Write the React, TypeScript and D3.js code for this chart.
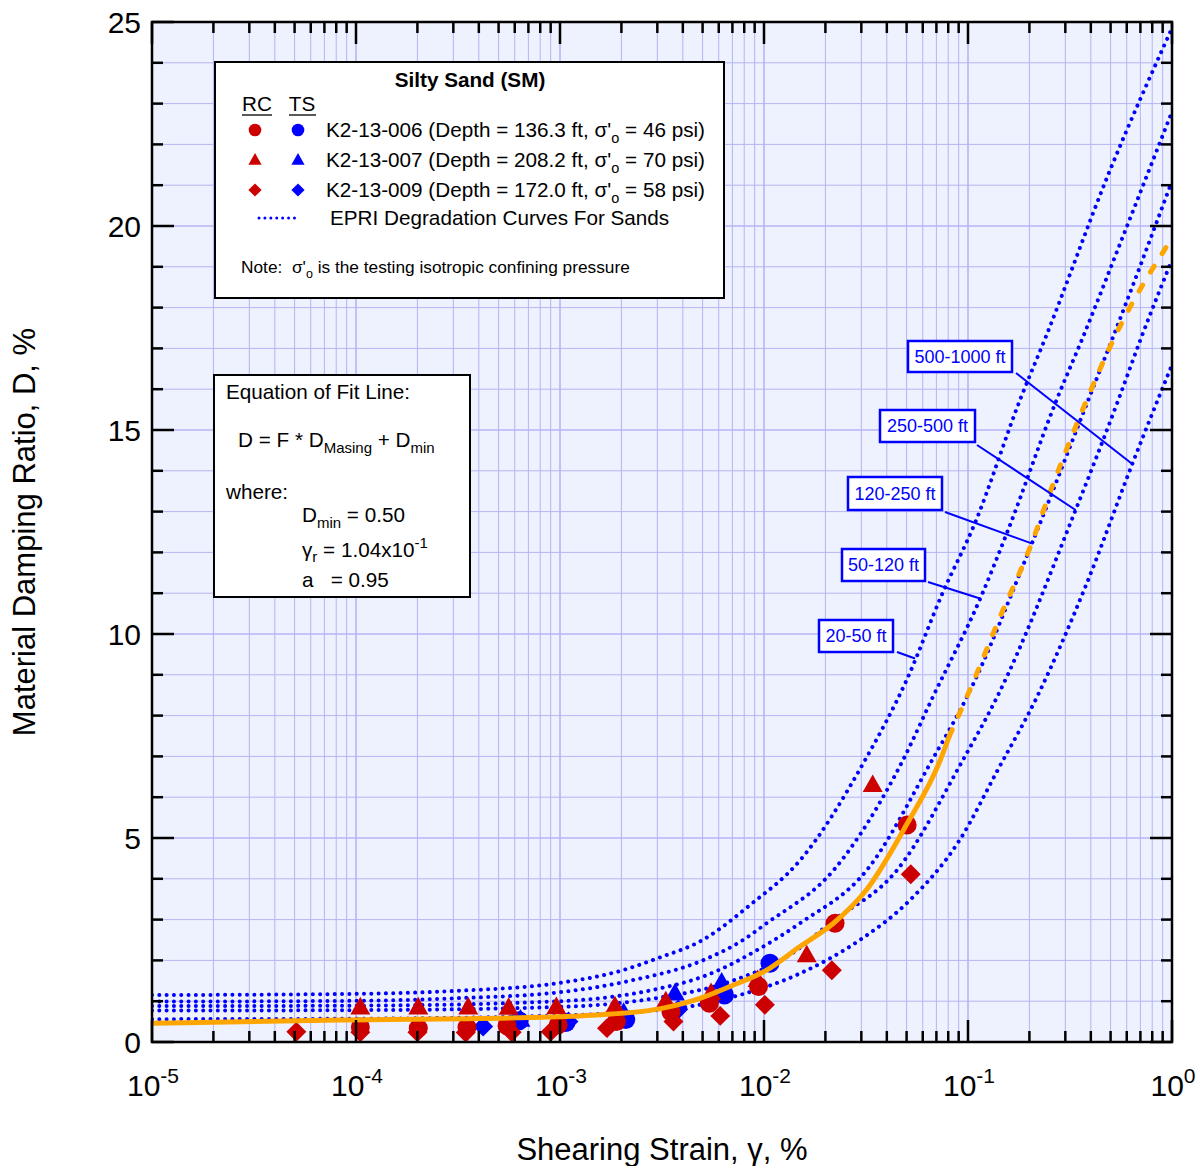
import React from 'react';
import * as d3 from 'd3';

// ---------- DATA ----------
// EPRI degradation curves for sands: [shear strain %, damping %]
const epri20to50: [number, number][] = [
  [1e-5, 1.15], [1e-4, 1.18], [3e-4, 1.25], [1e-3, 1.45], [2e-3, 1.75], [3e-3, 2.05], [5e-3, 2.5],
  [8.5e-3, 3.35], [0.015, 4.45], [0.0313, 6.91], [0.05, 8.87], [0.075, 11.0], [0.108, 12.71],
  [0.18, 15.74], [0.241, 17.29], [0.497, 21.37], [1.0, 24.85],
];
const epri50to120: [number, number][] = [
  [1e-5, 0.99], [1e-4, 1.01], [3e-4, 1.07], [1e-3, 1.22], [2.2e-3, 1.5], [5e-3, 2.0], [7.6e-3, 2.45],
  [0.0103, 2.91], [0.022, 4.22], [0.048, 6.91], [0.0673, 8.46], [0.1146, 10.86], [0.155, 12.47],
  [0.272, 15.74], [0.367, 17.29], [0.6, 19.98], [1.0, 22.8],
];
const epri120to250: [number, number][] = [
  [1e-5, 0.88], [1e-4, 0.89], [1e-3, 1.0], [3e-3, 1.3], [5e-3, 1.6], [0.01, 2.35], [0.015, 2.91],
  [0.032, 4.22], [0.0667, 6.91], [0.0989, 8.46], [0.205, 12.2], [0.389, 15.74], [0.515, 17.29],
  [1.0, 21.1],
];
const epri250to500: [number, number][] = [
  [1e-5, 0.77], [1e-4, 0.78], [1e-3, 0.86], [3e-3, 1.08], [7e-3, 1.5], [0.014, 2.2], [0.021, 2.91],
  [0.045, 4.22], [0.0944, 6.91], [0.139, 8.46], [0.337, 13.04], [0.546, 15.74], [0.71, 17.29],
  [1.0, 19.17],
];
const epri500to1000: [number, number][] = [
  [1e-5, 0.56], [1e-4, 0.57], [1e-3, 0.65], [4.3e-3, 0.87], [7.1e-3, 1.11], [0.015, 1.68],
  [0.0295, 2.5], [0.052, 3.48], [0.091, 4.95], [0.14, 6.67], [0.218, 8.46], [0.382, 11.24],
  [0.638, 14.16], [1.0, 16.6],
];

// Fit line (solid within tested range, dashed extrapolation)
const fitSolid: [number, number][] = [
  [1e-5, 0.46], [8.3e-5, 0.54], [7.1e-4, 0.6], [1.5e-3, 0.66], [3.2e-3, 0.83], [4.85e-3, 1.07],
  [6.8e-3, 1.36], [0.0103, 1.76], [0.015, 2.34], [0.0219, 2.91], [0.0318, 3.73], [0.05, 5.33],
  [0.073, 6.9], [0.081, 7.5],
];
const fitDashed: [number, number][] = [
  [0.081, 7.5], [0.0987, 8.46], [0.1436, 10.42], [0.205, 12.22], [0.248, 13.37], [0.348, 15.25],
  [0.525, 17.29], [1.0, 19.7],
];

// Test data: RC (red) and TS (blue)
const rcCircle006: [number, number][] = [
  [1.05e-4, 0.37], [2.02e-4, 0.34], [3.5e-4, 0.36], [5.5e-4, 0.4], [9.8e-4, 0.42], [1.89e-3, 0.5],
  [3.5e-3, 0.74], [5.4e-3, 0.95], [9.4e-3, 1.36], [0.0223, 2.91], [0.0503, 5.32],
];
const rcTriangle007: [number, number][] = [
  [1.05e-4, 0.85], [2.02e-4, 0.85], [3.55e-4, 0.85], [5.6e-4, 0.84], [9.6e-4, 0.86], [1.86e-3, 0.88],
  [3.3e-3, 1.0], [5.5e-3, 1.2], [9.3e-3, 1.52], [0.0162, 2.13], [0.0341, 6.3],
];
const rcDiamond009: [number, number][] = [
  [5.1e-5, 0.25], [1.05e-4, 0.24], [2.0e-4, 0.24], [3.45e-4, 0.23], [5.8e-4, 0.24], [9.0e-4, 0.25],
  [1.7e-3, 0.34], [3.6e-3, 0.5], [6.1e-3, 0.64], [0.0101, 0.91], [0.0215, 1.76], [0.0524, 4.11],
];
const tsCircle006: [number, number][] = [
  [6.3e-4, 0.52], [1.07e-3, 0.48], [2.1e-3, 0.55], [6.4e-3, 1.15], [0.0107, 1.93],
];
const tsTriangle007: [number, number][] = [
  [6.4e-4, 0.55], [2.05e-3, 0.72], [3.66e-3, 1.19], [6.2e-3, 1.46],
];
const tsDiamond009: [number, number][] = [
  [4.2e-4, 0.38], [1.1e-3, 0.5], [3.8e-3, 0.8],
];

const yTickValues = [0, 5, 10, 15, 20, 25];
const xDecades = [-5, -4, -3, -2, -1, 0];

const legendRows = [
  { id: 'K2-13-006', depth: '136.3', sigma: '46', shape: 'circle' },
  { id: 'K2-13-007', depth: '208.2', sigma: '70', shape: 'triangle' },
  { id: 'K2-13-009', depth: '172.0', sigma: '58', shape: 'diamond' },
];

const depthLabels = [
  { text: '500-1000 ft', at: [0.634, 14.18] },
  { text: '250-500 ft', at: [0.337, 13.04] },
  { text: '120-250 ft', at: [0.205, 12.22] },
  { text: '50-120 ft', at: [0.1146, 10.87] },
  { text: '20-50 ft', at: [0.055, 9.4] },
];
// layout of the label boxes (pixels)
const depthBoxes = [
  { x: 908, y: 341, w: 104, h: 31, lx: 1016, ly: 373 },
  { x: 880, y: 410, w: 95, h: 32, lx: 977, ly: 445 },
  { x: 848, y: 477, w: 94, h: 33, lx: 945, ly: 512 },
  { x: 842, y: 549, w: 83, h: 32, lx: 928, ly: 582 },
  { x: 819, y: 620, w: 74, h: 32, lx: 897, ly: 652 },
];

// ---------- STYLE ----------
const FONT = 'Arial, "Liberation Sans", sans-serif';
const RED = '#cc0000';
const BLUE = '#0000ff';
const ORANGE = '#ffa500';
const GRID = '#b4b4f4';
const BG = '#eef2fe';

const W = 1199;
const H = 1166;
const L = 152, R = 1172, T = 22, B = 1042;
const LF = 20.7; // legend font size

function markerPath(shape: string, size: number) {
  if (shape === 'circle') return d3.symbol(d3.symbolCircle, Math.PI * size * size)();
  if (shape === 'triangle') {
    const s = size;
    return `M0,${-s * 1.1}L${s * 1.05},${s * 0.75}L${-s * 1.05},${s * 0.75}Z`;
  }
  const s = size * 1.05;
  return `M0,${-s}L${s},0L0,${s}L${-s},0Z`;
}

export default function App() {
  const x = d3.scaleLog().domain([1e-5, 1]).range([L, R]);
  const y = d3.scaleLinear().domain([0, 25]).range([B, T]);

  const line = d3
    .line<[number, number]>()
    .x((d) => x(d[0]))
    .y((d) => y(d[1]))
    .curve(d3.curveMonotoneX);

  const xMinorVals: number[] = [];
  for (let d = -5; d < 0; d++) {
    for (let k = 1; k <= 9; k++) xMinorVals.push(k * Math.pow(10, d));
  }
  xMinorVals.push(1);

  const yVals = d3.range(0, 26);

  const epriAll = [epri20to50, epri50to120, epri120to250, epri250to500, epri500to1000];

  const renderMarkers = (pts: [number, number][], shape: string, color: string, size: number) =>
    pts.map((p, i) => (
      <path
        key={shape + color + i}
        d={markerPath(shape, size) as string}
        transform={`translate(${x(p[0])},${y(p[1])})`}
        fill={color}
      />
    ));

  return (
    <svg
      width={W}
      height={H}
      style={{ position: 'absolute', left: 0, top: 0, background: '#fff' }}
      fontFamily={FONT}
    >
      <defs>
        <clipPath id="plotClip">
          <rect x={L} y={T} width={R - L} height={B - T} />
        </clipPath>
      </defs>
      <rect x={L} y={T} width={R - L} height={B - T} fill={BG} />

      {/* grid */}
      <g>
        {xMinorVals.map((v, i) => {
          const major = Math.abs(Math.log10(v) - Math.round(Math.log10(v))) < 1e-9;
          return (
            <line key={'gx' + i} x1={x(v)} x2={x(v)} y1={T} y2={B} stroke={GRID} strokeWidth={major ? 1.6 : 1} />
          );
        })}
        {yVals.map((v) => (
          <line key={'gy' + v} x1={L} x2={R} y1={y(v)} y2={y(v)} stroke={GRID} strokeWidth={v % 5 === 0 ? 1.4 : 1} />
        ))}
      </g>

      <g clipPath="url(#plotClip)">
        {epriAll.map((c, i) => (
          <path
            key={'epri' + i}
            d={line(c) as string}
            fill="none"
            stroke={BLUE}
            strokeWidth={4}
            strokeLinecap="round"
            strokeDasharray="0.01 7.3"
          />
        ))}

        {renderMarkers(tsCircle006, 'circle', BLUE, 9.5)}
        {renderMarkers(tsTriangle007, 'triangle', BLUE, 9.5)}
        {renderMarkers(tsDiamond009, 'diamond', BLUE, 9.5)}
        {renderMarkers(rcCircle006, 'circle', RED, 9.5)}
        {renderMarkers(rcTriangle007, 'triangle', RED, 9.5)}
        {renderMarkers(rcDiamond009, 'diamond', RED, 9.5)}

        <path d={line(fitSolid) as string} fill="none" stroke={ORANGE} strokeWidth={5} strokeLinecap="round" />
        <path
          d={line(fitDashed) as string}
          fill="none"
          stroke={ORANGE}
          strokeWidth={5}
          strokeLinecap="round"
          strokeDasharray="7 15"
        />
      </g>

      {/* ticks */}
      <g stroke="#000" strokeWidth={2.5}>
        {xMinorVals.map((v, i) => {
          const major = Math.abs(Math.log10(v) - Math.round(Math.log10(v))) < 1e-9;
          const len = major ? 22 : 11;
          return (
            <g key={'tx' + i}>
              <line x1={x(v)} x2={x(v)} y1={B} y2={B - len} />
              <line x1={x(v)} x2={x(v)} y1={T} y2={T + len} />
            </g>
          );
        })}
        {yVals.map((v) => {
          const len = v % 5 === 0 ? 22 : 11;
          return (
            <g key={'ty' + v}>
              <line x1={L} x2={L + len} y1={y(v)} y2={y(v)} />
              <line x1={R} x2={R - len} y1={y(v)} y2={y(v)} />
            </g>
          );
        })}
      </g>
      <rect x={L} y={T} width={R - L} height={B - T} fill="none" stroke="#000" strokeWidth={2.5} />

      {yTickValues.map((v) => (
        <text key={'yl' + v} x={141} y={y(v)} dy="0.36em" textAnchor="end" fontSize={30} fill="#000">
          {v}
        </text>
      ))}
      {xDecades.map((d) => (
        <text key={'xl' + d} x={x(Math.pow(10, d)) + 1} y={1096} textAnchor="middle" fontSize={30} fill="#000">
          <tspan>10</tspan>
          <tspan dy={-13} fontSize={21}>
            {String(d)}
          </tspan>
        </text>
      ))}

      <text x={662} y={1160} textAnchor="middle" fontSize={31} fill="#000">
        Shearing Strain, γ, %
      </text>
      <text transform={`translate(35,532) rotate(-90)`} textAnchor="middle" fontSize={31} fill="#000">
        Material Damping Ratio, D, %
      </text>

      {/* legend box */}
      <g>
        <rect x={215} y={62} width={509} height={236} fill="#fff" stroke="#000" strokeWidth={2} />
        <text x={470} y={87} textAnchor="middle" fontSize={LF} fontWeight="bold">
          Silty Sand (SM)
        </text>
        <text x={257} y={111} textAnchor="middle" fontSize={LF}>RC</text>
        <line x1={242} x2={272} y1={115} y2={115} stroke="#000" strokeWidth={1.3} />
        <text x={302} y={111} textAnchor="middle" fontSize={LF}>TS</text>
        <line x1={289} x2={316} y1={115} y2={115} stroke="#000" strokeWidth={1.3} />
        {legendRows.map((r, i) => {
          const yy = 130 + i * 30;
          return (
            <g key={'lr' + i}>
              <path d={markerPath(r.shape, 6.3) as string} transform={`translate(255,${yy})`} fill={RED} />
              <path d={markerPath(r.shape, 6.3) as string} transform={`translate(298,${yy})`} fill={BLUE} />
              <text x={326} y={yy + 7} fontSize={LF}>
                {`${r.id} (Depth = ${r.depth} ft, σ'`}
                <tspan dy={6} fontSize={14.5}>o</tspan>
                <tspan dy={-6}>{` = ${r.sigma} psi)`}</tspan>
              </text>
            </g>
          );
        })}
        <line
          x1={259}
          x2={295}
          y1={218}
          y2={218}
          stroke={BLUE}
          strokeWidth={3}
          strokeLinecap="round"
          strokeDasharray="0.01 5.9"
        />
        <text x={330} y={225} fontSize={LF}>EPRI Degradation Curves For Sands</text>
        <text x={241} y={273} fontSize={17.3} xmlSpace="preserve">
          {"Note:  σ'"}
          <tspan dy={5} fontSize={12.5}>o</tspan>
          <tspan dy={-5}> is the testing isotropic confining pressure</tspan>
        </text>
      </g>

      {/* equation box */}
      <g>
        <rect x={214} y={375} width={256} height={222} fill="#fff" stroke="#000" strokeWidth={2} />
        <text x={226} y={399} fontSize={LF}>Equation of Fit Line:</text>
        <text x={238} y={447} fontSize={LF}>
          D = F * D
          <tspan dy={6} fontSize={15}>Masing</tspan>
          <tspan dy={-6}> + D</tspan>
          <tspan dy={6} fontSize={15}>min</tspan>
        </text>
        <text x={226} y={499} fontSize={LF}>where:</text>
        <text x={302} y={522} fontSize={LF}>
          D<tspan dy={6} fontSize={15}>min</tspan>
          <tspan dy={-6}> = 0.50</tspan>
        </text>
        <text x={302} y={557} fontSize={LF}>
          γ<tspan dy={5} fontSize={15}>r</tspan>
          <tspan dy={-5}> = 1.04x10</tspan>
          <tspan dy={-9} fontSize={15}>-1</tspan>
        </text>
        <text x={302} y={587} fontSize={LF} xmlSpace="preserve">a   = 0.95</text>
      </g>

      {/* depth labels */}
      {depthLabels.map((lab, i) => {
        const b = depthBoxes[i];
        return (
          <g key={'dl' + i}>
            <line x1={b.lx} y1={b.ly} x2={x(lab.at[0])} y2={y(lab.at[1])} stroke={BLUE} strokeWidth={2} />
            <rect x={b.x} y={b.y} width={b.w} height={b.h} fill="#fff" stroke={BLUE} strokeWidth={2.5} />
            <text x={b.x + b.w / 2} y={b.y + b.h / 2} dy="0.36em" textAnchor="middle" fontSize={18} fill={BLUE}>
              {lab.text}
            </text>
          </g>
        );
      })}
    </svg>
  );
}
